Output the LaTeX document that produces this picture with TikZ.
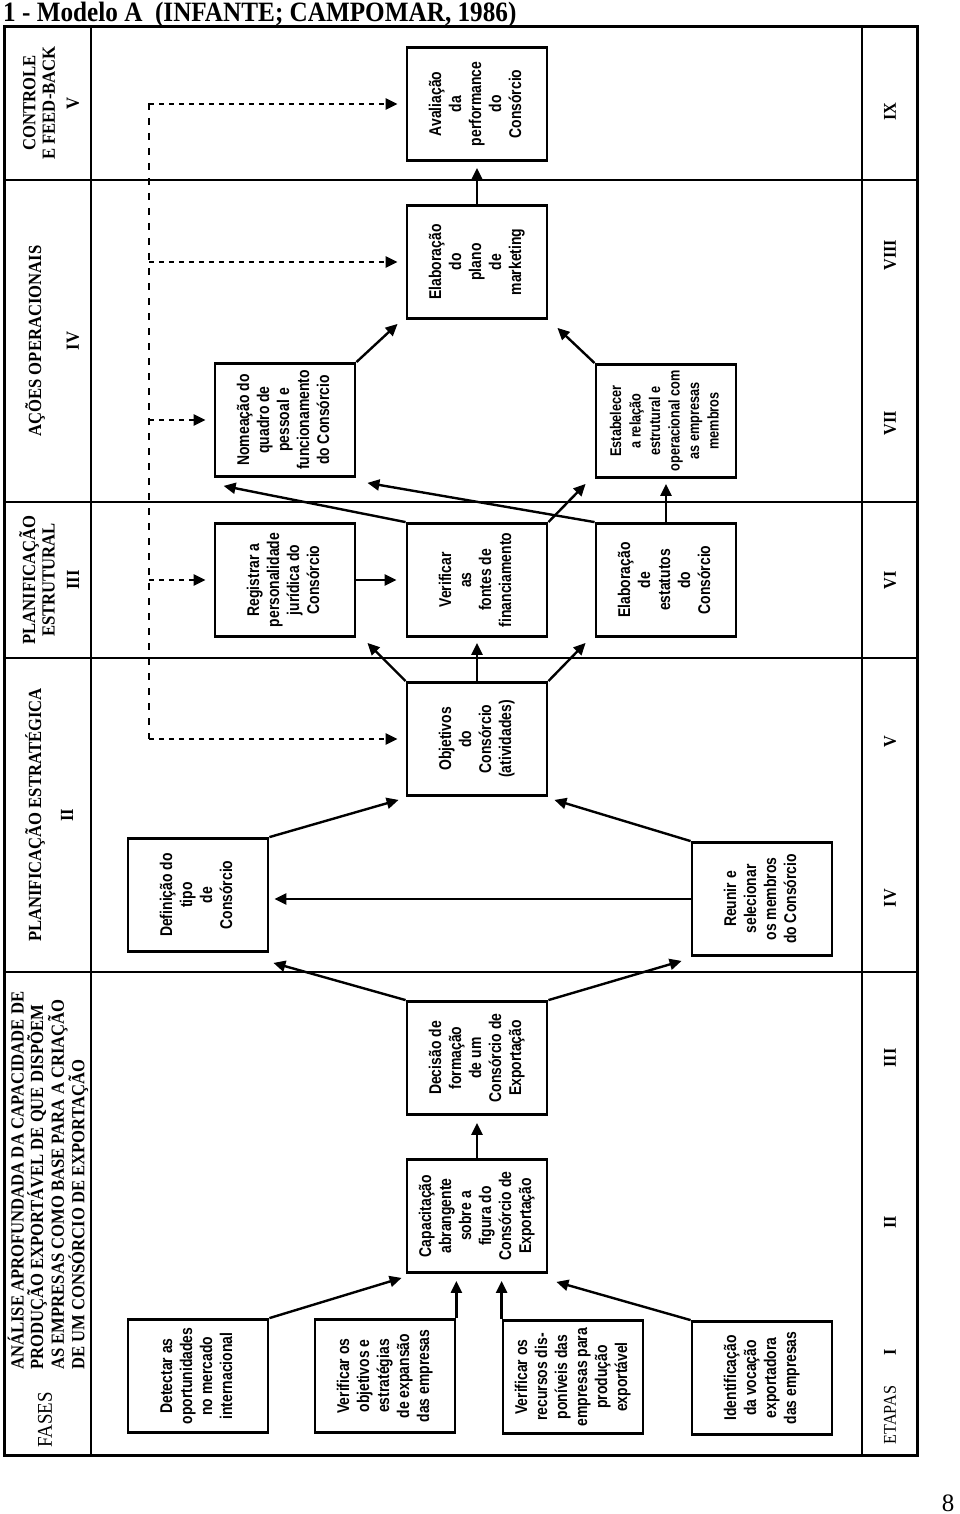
\documentclass[tikz,border=0pt]{standalone}
\usepackage{fontspec}
\setmainfont{Liberation Serif}
\newfontfamily\narrowsans[FakeStretch=0.82]{Liberation Sans}
\newfontfamily\narrowserif[FakeStretch=0.9]{Liberation Serif}
\usepackage{graphicx}
\usetikzlibrary{arrows.meta,calc}

\newcommand{\vt}[1]{\rotatebox{90}{\begin{tabular}{@{}c@{}}#1\end{tabular}}}

\begin{document}
\begin{tikzpicture}[x=1pt,y=-1pt,
  stage/.style={draw, line width=2.8pt, minimum width=140pt, minimum height=113pt,
                inner sep=0pt, font=\narrowsans\bfseries\fontsize{17}{20}\selectfont},
  arr/.style={-{Triangle[length=12pt,width=11pt]}, line width=2.4pt},
  fbk/.style={-{Triangle[length=12pt,width=11pt]}, line width=2.6pt, dash pattern=on 5pt off 5pt},
  phase/.style={rotate=90, align=center, inner sep=0pt, font=\narrowserif\bfseries\fontsize{18.5}{19.5}\selectfont},
  etapa/.style={rotate=90, inner sep=0pt, font=\narrowserif\bfseries\fontsize{18}{18}\selectfont},
  frame/.style={line width=2pt}
]
  \useasboundingbox (0,0) rectangle (960,1514);

  %% Title and frame
  \node[anchor=north west, inner sep=0pt, font=\narrowserif\bfseries\fontsize{28}{28}\selectfont] (title)
    at (3,2) {1 - Modelo A\ \ (INFANTE; CAMPOMAR, 1986)};
  \draw[line width=3pt] (4,27) rectangle (917,1455);
  \draw[frame] (91,27) -- (91,1455);
  \draw[frame] (862,27) -- (862,1455);
  \foreach \y in {180,502,658,972}
    \draw[frame] (4,\y) -- (917,\y);
  \node[font=\fontsize{25}{25}\selectfont] (pg) at (948,1503) {8};

  %% Phases
  \node[phase] (ph5) at (39,103) {CONTROLE\\E FEED-BACK};
  \node[phase] (n5) at (73,103) {V};
  \node[phase] (ph4) at (35,341) {AÇÕES OPERACIONAIS};
  \node[phase] (n4) at (73,341) {IV};
  \node[phase] (ph3) at (37,580) {PLANIFICAÇÃO\\ESTRUTURAL};
  \node[phase] (n3) at (73,580) {III};
  \node[phase] (ph2) at (35,815) {PLANIFICAÇÃO ESTRATÉGICA};
  \node[phase] (n2) at (67,815) {II};
  \node[phase, anchor=west, align=left] (ph1) at (48,1370)
    {ANÁLISE APROFUNDADA DA CAPACIDADE DE\\PRODUÇÃO EXPORTÁVEL DE QUE DISPÕEM\\
     AS EMPRESAS COMO BASE PARA A CRIAÇÃO\\DE UM CONSÓRCIO DE EXPORTAÇÃO};
  \node[rotate=90, inner sep=0pt, font=\narrowserif\fontsize{21}{21}\selectfont] (fases) at (45,1420) {FASES};

  %% Etapas
  \node[rotate=90, inner sep=0pt, font=\narrowserif\fontsize{18}{18}\selectfont] (etapas) at (890,1415) {ETAPAS};
  \foreach \r/\y in {I/1352,II/1222,III/1058,IV/898,V/742,VI/580,VII/423,VIII/255,IX/112}
    \node[etapa] (et\r) at (890,\y) {\r};

  %% Stage I
  \node[stage] (det) at (198,1376) {\vt{Detectar as\\oportunidades\\no mercado\\internacional}};
  \node[stage] (obj) at (385,1376) {\vt{Verificar os\\objetivos e\\estratégias\\de expansão\\das empresas}};
  \node[stage] (rec) at (573,1377) {\vt{Verificar os\\recursos dis-\\poníveis das\\empresas para\\produção\\exportável}};
  \node[stage] (voc) at (762,1378) {\vt{Identificação\\da vocação\\exportadora\\das empresas}};
  %% Stages II - III
  \node[stage] (cap) at (477,1216) {\vt{Capacitação\\abrangente\\sobre a\\figura do\\Consórcio de\\Exportação}};
  \node[stage] (dec) at (477,1058) {\vt{Decisão de\\formação\\de um\\Consórcio de\\Exportação}};
  %% Stages IV - V
  \node[stage] (tipo) at (198,895) {\vt{Definição do\\tipo\\de\\Consórcio}};
  \node[stage] (memb) at (762,899) {\vt{Reunir e\\selecionar\\os membros\\do Consórcio}};
  \node[stage] (objc) at (477,739) {\vt{Objetivos\\do\\Consórcio\\(atividades)}};
  %% Stage VI
  \node[stage] (reg) at (285,580) {\vt{Registrar a\\personalidade\\jurídica do\\Consórcio}};
  \node[stage] (fin) at (477,580) {\vt{Verificar\\as\\fontes de\\financiamento}};
  \node[stage] (est) at (666,580) {\vt{Elaboração\\de\\estatutos\\do\\Consórcio}};
  %% Stages VII - IX
  \node[stage] (nom) at (285,420) {\vt{Nomeação do\\quadro de\\pessoal e\\funcionamento\\do Consórcio}};
  \node[stage, font=\narrowsans\bfseries\fontsize{15.5}{19.5}\selectfont] (rel) at (666,421)
    {\vt{Estabelecer\\a relação\\estrutural e\\operacional com\\as empresas\\membros}};
  \node[stage] (mkt) at (477,262) {\vt{Elaboração\\do\\plano\\de\\marketing}};
  \node[stage] (aval) at (477,104) {\vt{Avaliação\\da\\performance\\do\\Consórcio}};

  %% Flow
  \draw[arr] (det.north east) -- ($(cap.south west)+(-4,4)$);
  \draw[arr] (obj.north east) -- ($(obj.north east |- cap.south)+(0,7)$);
  \draw[arr] (rec.north west) -- ($(rec.north west |- cap.south)+(0,7)$);
  \draw[arr] (voc.north west) -- ($(cap.south east)+(8,8)$);
  \draw[arr] (cap.north) -- ($(dec.south)+(0,7)$);
  \draw[arr] (dec.north west) -- ($(tipo.south east)+(4,10)$);
  \draw[arr] (dec.north east) -- ($(memb.south west)+(-9,4)$);
  \draw[arr] (memb.west) -- ($(memb.west -| tipo.east)+(5,0)$);
  \draw[arr] (tipo.north east) -- ($(objc.south west)+(-7,3)$);
  \draw[arr] (memb.north west) -- ($(objc.south east)+(6,3)$);
  \draw[arr] (objc.north west) -- ($(reg.south east)+(11,5)$);
  \draw[arr] (objc.north) -- ($(fin.south)+(0,5)$);
  \draw[arr] (objc.north east) -- ($(est.south west)+(-9,5)$);
  \draw[arr] (reg.east) -- ($(reg.east -| fin.west)+(-9,0)$);
  \draw[arr] (fin.north west) -- ($(nom.south west)+(10,8)$);
  \draw[arr] (est.north west) -- ($(nom.south east)+(11,5)$);
  \draw[arr] (fin.north east) -- ($(rel.south west)+(-9,5)$);
  \draw[arr] (est.north) -- ($(rel.south)+(0,5)$);
  \draw[arr] (nom.north east) -- ($(mkt.south west)+(-8,4)$);
  \draw[arr] (rel.north west) -- ($(mkt.south east)+(9,8)$);
  \draw[arr] (mkt.north) -- ($(aval.south)+(0,6)$);

  %% Feedback
  \coordinate (fbtop) at (149,103);
  \coordinate (fbbot) at (fbtop |- objc.west);
  \draw[line width=2.6pt, dash pattern=on 7pt off 8pt] (fbtop) -- (fbbot);
  \foreach \n in {aval,mkt,nom,reg,objc}
    \draw[fbk] (fbtop |- \n.west) -- ($(\n.west)+(-8,0)$);
\end{tikzpicture}
\end{document}
